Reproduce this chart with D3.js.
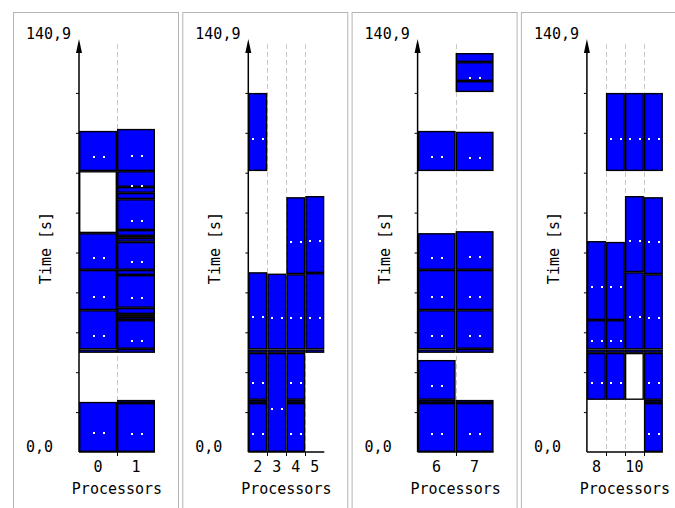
<!DOCTYPE html>
<html><head><meta charset="utf-8">
<script src="https://cdn.jsdelivr.net/npm/d3@7"></script>
<style>
body{margin:0;background:#fff}
svg{display:block}
text{font-family:"DejaVu Sans Mono",monospace;font-size:15px;fill:#000}
</style>
</head><body><svg width="675" height="508"></svg>
<script>
// ---------- data ----------
const yMax = 140.9;
const yDivisions = 10;
const panels = [[0,1],[2,3,4,5],[6,7],[8,9,10,11]];
const xTickLabels = [["0","1"],["2","3","4","5"],["6","7"],["8","","10",""]];
const yLabel = "Time [s]";
const xLabel = "Processors";
// tasks per processor: [start s, end s, busy 1 / idle 0]
const proc0  = [[0,17.7,1],[35.0,36.2,1],[36.2,50.1,1],[50.1,64.3,1],[64.3,77.3,1],[77.3,99.2,0],[99.2,113.4,1]];
const proc1  = [[0,17.3,1],[17.3,18.4,1],[35.0,36.4,1],[36.4,46.6,1],[46.6,47.7,1],[47.7,48.7,1],[48.7,50.9,1],[50.9,62.5,1],[62.5,64.3,1],[64.3,74.2,1],[74.2,75.6,1],[75.6,76.3,1],[76.3,78.4,1],[78.4,89.3,1],[89.3,91.5,1],[91.5,93.6,1],[93.6,99.2,1],[99.2,114.1,1]];
const proc2  = [[0,17.3,1],[17.3,18.4,1],[18.4,35.0,1],[35.0,36.2,1],[36.2,63.5,1],[99.2,126.8,1]];
const proc3  = [[0,35.0,1],[35.0,36.2,1],[36.2,63.0,1]];
const proc4  = [[0,17.3,1],[17.3,18.4,1],[18.4,35.0,1],[35.0,36.2,1],[36.2,62.8,1],[62.8,90.0,1]];
const proc5  = [[35.0,36.2,1],[36.2,63.2,1],[63.2,90.4,1]];
const proc6  = [[0,17.3,1],[17.3,18.4,1],[18.4,32.5,1],[35.0,36.2,1],[36.2,50.1,1],[50.1,64.3,1],[64.3,77.3,1],[99.2,113.4,1]];
const proc7  = [[0,17.3,1],[17.3,18.4,1],[35.0,36.4,1],[36.4,50.1,1],[50.1,64.3,1],[64.3,78.0,1],[99.2,113.1,1],[127.1,131.0,1],[131.0,137.7,1],[137.7,140.9,1]];
const proc8  = [[18.4,35.0,1],[35.0,36.2,1],[36.2,46.6,1],[46.6,74.5,1]];
const proc9  = [[18.4,35.0,1],[35.0,36.2,1],[36.2,46.6,1],[46.6,74.2,1],[99.2,126.8,1]];
const proc10 = [[18.4,35.0,0],[35.0,36.2,1],[36.2,63.5,1],[63.5,90.4,1],[99.2,126.8,1]];
const proc11 = [[0,17.3,1],[17.3,18.4,1],[18.4,35.0,1],[35.0,36.2,1],[36.2,62.8,1],[62.8,90.0,1],[99.2,126.8,1]];
const procTasks = [proc0,proc1,proc2,proc3,proc4,proc5,proc6,proc7,proc8,proc9,proc10,proc11];

// ---------- layout ----------
const svg = d3.select("svg");
const pitch = 169.3, axis0 = 79, plotW = 76, plotTop = 53, plotBottom = 452;
const y = d3.scaleLinear().domain([0, yMax]).range([plotBottom, plotTop]);
const loc = d3.formatLocale({decimal:",", thousands:".", grouping:[3], currency:["",""]});
const fmt = loc.format(".1f");

panels.forEach((procs, i) => {
  const ax = axis0 + i*pitch;
  const left = ax - 66;
  const g = svg.append("g");
  // panel border
  g.append("rect").attr("x", left+0.5).attr("y", 12.5).attr("width", 165).attr("height", 600)
    .attr("fill", "none").attr("stroke", "#b4b4b4").attr("stroke-width", 1);

  const x = d3.scaleBand().domain(procs).range([ax, ax+plotW]);
  const bw = x.bandwidth();

  // dashed separators
  g.selectAll("line.sep").data(procs.slice(1)).join("line")
    .attr("x1", d => Math.round(x(d))+0.5).attr("x2", d => Math.round(x(d))+0.5)
    .attr("y1", 44).attr("y2", plotBottom)
    .attr("stroke", "#c8c8c8").attr("stroke-width", 1).attr("stroke-dasharray", "5,3");

  // tasks
  procs.forEach(p => {
    const tasks = procTasks[p];
    const x0 = x(p);
    const sw = 1.4;
    g.selectAll(null).data(tasks).join("rect")
      .attr("x", x0 + sw/2).attr("width", bw - sw)
      .attr("y", d => y(d[1]) + sw/2)
      .attr("height", d => Math.max(0, y(d[0]) - y(d[1]) - sw))
      .attr("fill", d => d[2] ? "#0000ff" : "#ffffff")
      .attr("stroke", "#000").attr("stroke-width", sw);
    const labelled = tasks.filter(d => d[2] && (y(d[0]) - y(d[1])) >= 12);
    const cx = x0 + bw/2;
    [-5.5, 4.5].forEach(off => {
      g.selectAll(null).data(labelled).join("rect")
        .attr("x", Math.round(cx + off)).attr("width", 2).attr("height", 2)
        .attr("y", d => Math.round((y(d[0]) + y(d[1]))/2 + 5.5))
        .attr("fill", "#fff");
    });
  });

  // y axis ticks
  const yAxis = d3.axisLeft(y).tickValues(d3.range(1, yDivisions).map(k => k*yMax/yDivisions))
    .tickSize(3).tickFormat("");
  const ya = g.append("g").attr("transform", `translate(${ax},0)`).call(yAxis);
  ya.select(".domain").remove();
  ya.selectAll(".tick line").attr("stroke", "#000");
  // y axis line + arrow
  g.append("line").attr("x1", ax).attr("x2", ax).attr("y1", 44).attr("y2", plotBottom)
    .attr("stroke", "#000").attr("stroke-width", 1.5);
  g.append("path").attr("d", `M${ax},39 L${ax+3},53 L${ax-3},53 Z`).attr("fill", "#000");

  // x axis baseline & ticks
  g.append("line").attr("x1", ax).attr("x2", ax+plotW).attr("y1", plotBottom).attr("y2", plotBottom)
    .attr("stroke", "#000").attr("stroke-width", 1.5);
  g.selectAll("line.xt").data(procs.slice(1)).join("line")
    .attr("x1", d => Math.round(x(d))+0.5).attr("x2", d => Math.round(x(d))+0.5)
    .attr("y1", plotBottom).attr("y2", plotBottom+4).attr("stroke", "#000");
  g.selectAll("text.xl").data(procs).join("text")
    .attr("x", d => x(d) + bw/2).attr("y", 472).attr("text-anchor", "middle")
    .text((d, j) => xTickLabels[i][j]);

  // labels
  g.append("text").attr("x", ax-53).attr("y", 39).text(fmt(yMax));
  g.append("text").attr("x", ax-53).attr("y", plotBottom).text(fmt(0));
  g.append("text").attr("transform", `translate(${ax-28},248) rotate(-90)`)
    .attr("text-anchor", "middle").text(yLabel);
  g.append("text").attr("x", ax + plotW/2).attr("y", 494).attr("text-anchor", "middle").text(xLabel);
});
</script>
</body></html>
